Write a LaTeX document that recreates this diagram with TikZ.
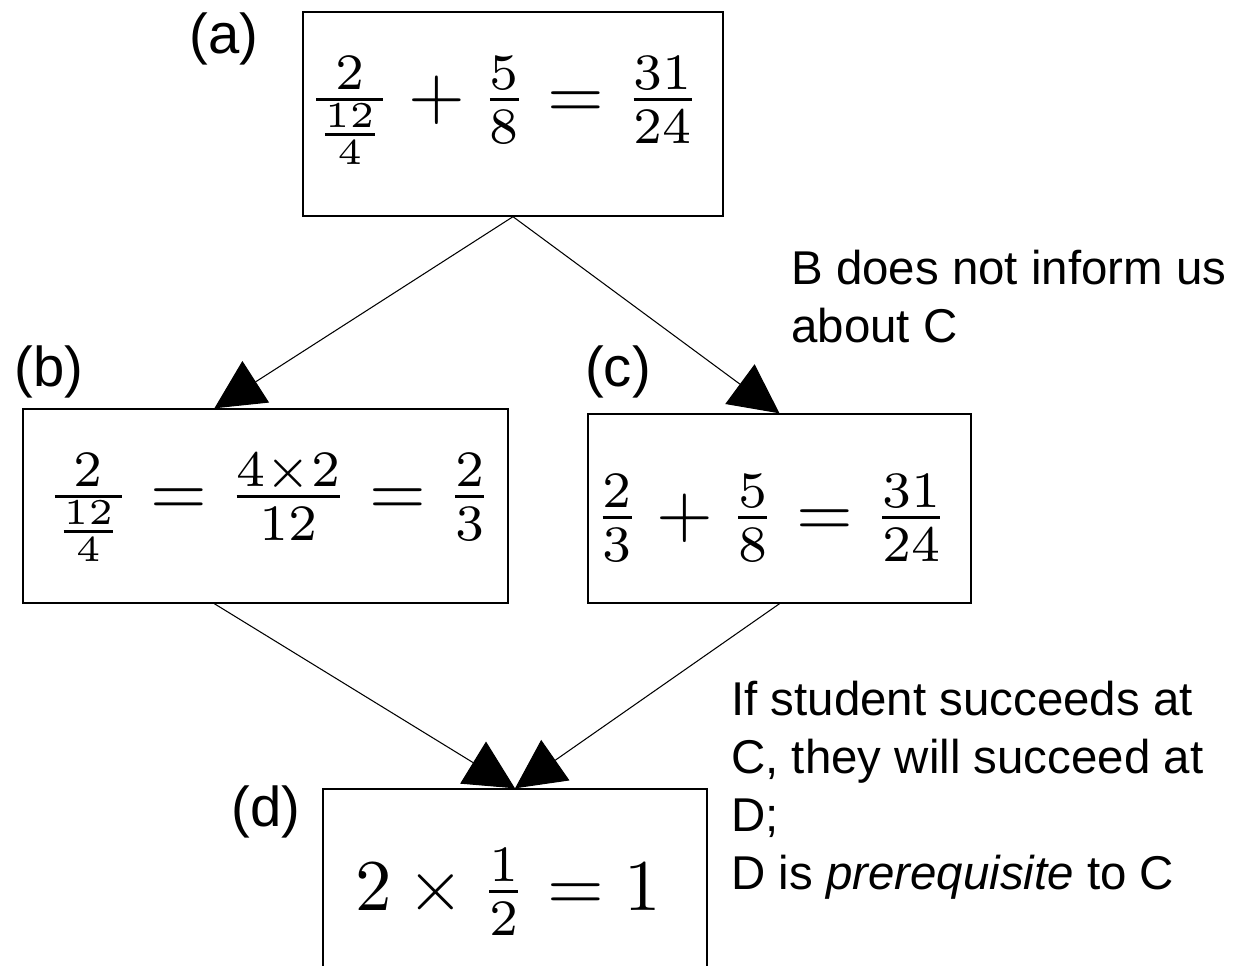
\documentclass[tikz,border=0pt]{standalone}
\usepackage[no-math]{fontspec}
\usepackage{graphicx}
\newfontfamily\arialf{Liberation Sans}
\usetikzlibrary{arrows.meta,calc}
\newcommand\eqmath[1]{\scalebox{4.15}{\fontsize{10}{12}\selectfont$#1$}}
\begin{document}
\begin{tikzpicture}[x=0.02cm,y=-0.02cm,
  box/.style={draw=black,line width=0.8pt,inner sep=0pt,rectangle},
  eq/.style={inner sep=0pt,anchor=base},
  lab/.style={font=\arialf\fontsize{32}{38}\selectfont,inner sep=0pt,anchor=base},
  note/.style={font=\arialf\fontsize{27}{33}\selectfont,inner sep=0pt,align=left,anchor=base west},
  conn/.style={line width=0.6pt,-{Triangle[length=28pt,width=28pt]}}]
\useasboundingbox (0,0) rectangle (1241,965);
\clip (0,0) rectangle (1241,965);
% boxes
\node[box,minimum width=8.4cm,minimum height=4.08cm] (a) at (513,114) {};
\node[box,minimum width=9.7cm,minimum height=3.88cm] (b) at (265.5,506) {};
\node[box,minimum width=7.66cm,minimum height=3.78cm] (c) at (779.5,508.5) {};
\node[box,minimum width=7.68cm,minimum height=4.24cm] (d) at (515,895) {};
% equations
\node[eq] (aeq) at (504,118) {\eqmath{\frac{2}{\frac{12}{4}}+\frac{5}{8}=\frac{31}{24}}};
\node[eq] (beq) at (269.5,515) {\eqmath{\frac{2}{\frac{12}{4}}=\frac{4\times2}{12}=\frac{2}{3}}};
\node[eq] (ceq) at (771.5,536) {\eqmath{\frac{2}{3}+\frac{5}{8}=\frac{31}{24}}};
\node[eq] (deq) at (508,910) {\eqmath{2\times\frac{1}{2}=1}};
% labels
\node[lab] (la) at (224,53) {(a)};
\node[lab] (lb) at (49,386) {(b)};
\node[lab] (lc) at (618,386) {(c)};
\node[lab] (ld) at (266,826) {(d)};
% notes (anchored at the baseline of the last line)
\node[note] (n1) at (791,342) {B does not inform us\\about C};
\node[note] (n2) at (731,889) {If student succeeds at\\C, they will succeed at\\D;\\D is \textit{prerequisite} to C};
% connectors
\coordinate (bin) at ($(b.north west)+(192,0)$);
\coordinate (bout) at ($(b.south west)+(192,0)$);
\draw[conn] (a.south) -- (bin);
\draw[conn] (a.south) -- (c.north);
\draw[conn] (bout) -- (d.north);
\draw[conn] (c.south) -- (d.north);
\end{tikzpicture}
\end{document}
